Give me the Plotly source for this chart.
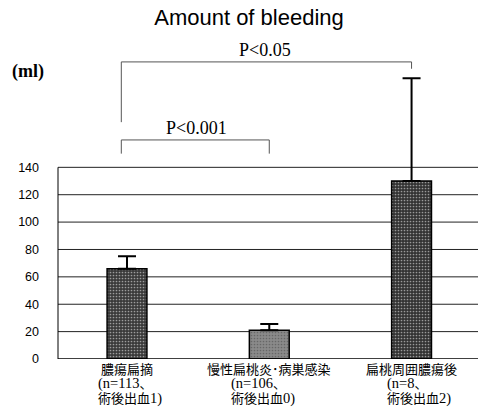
import re
import plotly.graph_objects as go

categories = ["膿瘍扁摘", "慢性扁桃炎･病巣感染", "扁桃周囲膿瘍後"]
n_lines = ["(n=113、", "(n=106、", "(n=8、"]
post_lines = ["術後出血1)", "術後出血0)", "術後出血2)"]
values = [66, 21, 130]
errors = [9, 4.5, 75]
bar_colors = ["#3a3a3a", "#8a8a8a", "#333333"]
ytick_vals = [0, 20, 40, 60, 80, 100, 120, 140]

x = list(range(len(categories)))


def big_latin(s):
    return re.sub(r"([\x20-\x7e]+)", r"<span style='font-size:14.5px'>\1</span>", s)


fig = go.Figure()
fig.add_trace(go.Bar(
    x=x, y=values, width=0.28,
    marker=dict(color=bar_colors, line=dict(color="black", width=1.5),
                pattern=dict(shape=".", fgcolor="#a0a0a0", size=3, solidity=0.25)),
    error_y=dict(type="data", array=errors, arrayminus=[0, 0, 0], symmetric=False,
                 color="black", thickness=2, width=9),
    showlegend=False, hoverinfo="skip",
))

ink = "black"
shapes = []
for v in ytick_vals[1:]:
    shapes.append(dict(type="line", xref="paper", yref="y", x0=0, x1=1, y0=v, y1=v,
                       line=dict(color="#222", width=1), layer="below"))
shapes.append(dict(type="line", xref="paper", yref="y", x0=0, x1=0, y0=0, y1=140,
                   line=dict(color=ink, width=1)))
shapes.append(dict(type="line", xref="paper", yref="y", x0=0, x1=1, y0=0, y1=0,
                   line=dict(color=ink, width=1.5)))

br_color = "#555"
leg_off = -0.04
shapes += [
    dict(type="line", xref="x", yref="y", x0=x[0] + leg_off, x1=x[2], y0=217, y1=217, line=dict(color=br_color, width=1)),
    dict(type="line", xref="x", yref="y", x0=x[0] + leg_off, x1=x[0] + leg_off, y0=173, y1=217, line=dict(color=br_color, width=1)),
    dict(type="line", xref="x", yref="y", x0=x[2], x1=x[2], y0=212, y1=217, line=dict(color=br_color, width=1)),
    dict(type="line", xref="x", yref="y", x0=x[0] + leg_off, x1=x[1], y0=160, y1=160, line=dict(color=br_color, width=1)),
    dict(type="line", xref="x", yref="y", x0=x[0] + leg_off, x1=x[0] + leg_off, y0=150, y1=160, line=dict(color=br_color, width=1)),
    dict(type="line", xref="x", yref="y", x0=x[1], x1=x[1], y0=150, y1=160, line=dict(color=br_color, width=1)),
]

serif = "Liberation Serif, Noto Sans CJK JP, serif"
ann = []
ann.append(dict(x=(x[0] + x[2]) / 2 - 0.03, y=217, xref="x", yref="y", text="P<0.05", showarrow=False,
                yanchor="bottom", yshift=0, font=dict(family=serif, size=18, color="black")))
ann.append(dict(x=(x[0] + x[1]) / 2 - 0.01, y=160, xref="x", yref="y", text="P<0.001", showarrow=False,
                yanchor="bottom", yshift=0, font=dict(family=serif, size=18, color="black")))

label_font = dict(family=serif, size=13, color="black")
sub_shift = [-31, -40, -27]
for i in x:
    ann.append(dict(x=i, y=0, xref="x", yref="y", text=categories[i], showarrow=False,
                    yanchor="middle", yshift=-10, xanchor="center", font=label_font))
    ann.append(dict(x=i, y=0, xref="x", yref="y", text=big_latin(n_lines[i]),
                    showarrow=False, yanchor="middle", yshift=-24.5, xanchor="left",
                    xshift=sub_shift[i], font=label_font))
    ann.append(dict(x=i, y=0, xref="x", yref="y", text=big_latin(post_lines[i]),
                    showarrow=False, yanchor="middle", yshift=-39.5, xanchor="left",
                    xshift=sub_shift[i], font=label_font))

ann.append(dict(x=-0.115, y=0.9, xref="paper", yref="paper", text="<b>(ml)</b>", showarrow=False,
                xanchor="left", yanchor="middle", font=dict(family=serif, size=18, color="black")))

fig.update_layout(
    width=480, height=407,
    margin=dict(l=58, r=2, t=40, b=48, pad=0),
    paper_bgcolor="white", plot_bgcolor="white",
    title=dict(text="Amount of bleeding", x=249 / 480, xanchor="center", y=1 - 17 / 407, yanchor="middle",
               font=dict(family="Liberation Sans, Arial, sans-serif", size=22, color="black")),
    xaxis=dict(range=[-0.485, 2.467], showticklabels=False, showgrid=False, zeroline=False,
               showline=False, ticks="", fixedrange=True),
    yaxis=dict(range=[0, 233], tickvals=ytick_vals, showgrid=False, zeroline=False,
               showline=False, ticks="", ticklabelstandoff=18, fixedrange=True,
               tickfont=dict(family="Liberation Sans, Arial, sans-serif", size=12.5, color="black")),
    shapes=shapes,
    annotations=ann,
)
fig.write_html("out.html", config={"displayModeBar": False},
               post_script="document.body.style.margin='0';")
